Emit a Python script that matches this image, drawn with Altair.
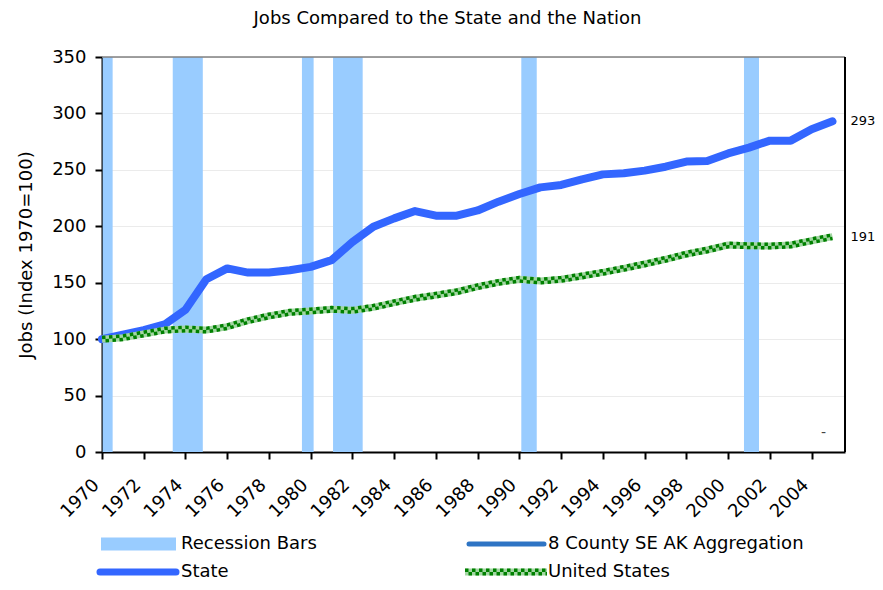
import altair as alt
import pandas as pd

# ---------------- data ----------------
years = list(range(1970, 2006))
state = [100, 104, 108, 113, 126, 153, 162.7, 159, 159, 161,
         164, 170, 186, 199.6, 207, 213.5, 209.4, 209.4, 214, 221.8,
         228.6, 234.5, 236.6, 241.6, 246, 247, 249.3, 252.8, 257.3, 257.8,
         264.6, 269.7, 275.9, 275.9, 286, 293]
us = [100, 101.3, 104.6, 108, 109, 108, 111, 116.4, 120.5, 123.8,
      125, 126.4, 125.5, 128.2, 132.3, 136.2, 139, 142, 146.5, 150.3,
      153, 151.5, 153, 156, 159.2, 162.7, 166.6, 170.7, 175.4, 179,
      183.4, 182.8, 182.5, 183.4, 187.2, 190.8]
rec_start = [1970.03, 1973.39, 1979.58, 1981.07, 1990.09, 2000.76]
rec_end = [1970.51, 1974.83, 1980.14, 1982.49, 1990.83, 2001.48]
end_labels = ["293", "191"]
county_label_year = [2005]
county_label_value = [17]
county_label_text = ["-"]
x_ticks = list(range(1970, 2005, 2))
y_ticks = list(range(0, 351, 50))
legend_names = ["Recession Bars", "8 County SE AK Aggregation", "State", "United States"]

W, H = 743, 395
FONT = "DejaVu Sans"
BLUE = "#3366FF"
REC = "#99CCFF"
COUNTY = "#2E74C4"
DKGREEN = "#008000"
LTGREEN = "#A3D6A3"

lines_df = pd.DataFrame({"year": years, "state": state, "us": us})
rec_df = pd.DataFrame({"start": rec_start, "end": rec_end})
end_df = pd.DataFrame({"year": [years[-1], years[-1]],
                       "value": [state[-1], us[-1]],
                       "label": end_labels})
dash_df = pd.DataFrame({"year": county_label_year, "value": county_label_value,
                        "label": county_label_text})
one = pd.DataFrame({"k": [0]})

xs = alt.Scale(domain=[1970, 2005.6], nice=False, zero=False)
ys = alt.Scale(domain=[0, 350], nice=False, zero=True)
x_axis = alt.Axis(values=x_ticks, format="d", labelAngle=315, labelAlign="right",
                  labelBaseline="middle", labelPadding=23, labelOffset=-6,
                  grid=False, title=None, labelFlush=False, labelOverlap=False)
y_axis = alt.Axis(values=y_ticks, grid=True, title="Jobs (Index 1970=100)",
                  labelPadding=9, titlePadding=16)

bars = alt.Chart(rec_df).mark_rect(color=REC).encode(
    x=alt.X("start:Q", scale=xs, axis=x_axis),
    x2="end:Q",
    y=alt.Y(datum=0, type="quantitative", scale=ys, axis=y_axis),
    y2=alt.Y2(datum=350),
)

top_border = alt.Chart(one).mark_rule(color="#808080", strokeWidth=1.5).encode(
    x=alt.value(0), x2=alt.value(W), y=alt.value(0))
right_border = alt.Chart(one).mark_rule(color="black", strokeWidth=2).encode(
    x=alt.value(W), y=alt.value(0), y2=alt.value(H))

X = alt.X("year:Q", scale=xs, axis=x_axis)

state_line = alt.Chart(lines_df).mark_line(
    color=BLUE, strokeWidth=8, strokeJoin="round", strokeCap="round").encode(
    x=X, y=alt.Y("state:Q", scale=ys, axis=y_axis))

us_base = alt.Chart(lines_df).mark_line(
    color=LTGREEN, strokeWidth=7, strokeJoin="round").encode(
    x=X, y=alt.Y("us:Q", scale=ys, axis=y_axis))
us_d1 = alt.Chart(lines_df).mark_line(
    color=DKGREEN, strokeWidth=3.5, strokeDash=[3.5, 3.5], yOffset=-1.75).encode(
    x=X, y=alt.Y("us:Q", scale=ys, axis=y_axis))
us_d2 = alt.Chart(lines_df).mark_line(
    color=DKGREEN, strokeWidth=3.5, strokeDash=[3.5, 3.5], strokeDashOffset=3.5,
    yOffset=1.75).encode(
    x=X, y=alt.Y("us:Q", scale=ys, axis=y_axis))

end_text = alt.Chart(end_df).mark_text(
    align="left", baseline="middle", dx=18, fontSize=13, font=FONT, color="black").encode(
    x=X, y=alt.Y("value:Q", scale=ys, axis=y_axis), text="label:N")
dash_text = alt.Chart(dash_df).mark_text(
    align="center", baseline="middle", dx=-9, fontSize=14, font=FONT, color="#444444").encode(
    x=X, y=alt.Y("value:Q", scale=ys, axis=y_axis), text="label:N")

# ---------------- manual legend (layout in pixels) ----------------
R1, R2 = 487, 515
leg = []
leg.append(alt.Chart(one).mark_rect(color=REC).encode(
    x=alt.value(-1), x2=alt.value(74), y=alt.value(R1 - 6.5), y2=alt.value(R1 + 6.5)))
leg.append(alt.Chart(one).mark_rule(color=COUNTY, strokeWidth=5, strokeCap="round").encode(
    x=alt.value(367), x2=alt.value(442), y=alt.value(R1)))
leg.append(alt.Chart(one).mark_rule(color=BLUE, strokeWidth=7, strokeCap="round").encode(
    x=alt.value(-2), x2=alt.value(74), y=alt.value(R2)))
leg.append(alt.Chart(one).mark_rule(color=LTGREEN, strokeWidth=7).encode(
    x=alt.value(363), x2=alt.value(445), y=alt.value(R2)))
leg.append(alt.Chart(one).mark_rule(color=DKGREEN, strokeWidth=3.5, strokeDash=[3.5, 3.5]).encode(
    x=alt.value(363), x2=alt.value(445), y=alt.value(R2 - 1.75)))
leg.append(alt.Chart(one).mark_rule(color=DKGREEN, strokeWidth=3.5, strokeDash=[3.5, 3.5],
                                    strokeDashOffset=3.5).encode(
    x=alt.value(363), x2=alt.value(445), y=alt.value(R2 + 1.75)))
leg_pos = [(79, R1), (446, R1), (79, R2), (446, R2)]
for name, (lx, ly) in zip(legend_names, leg_pos):
    leg.append(alt.Chart(one).mark_text(
        text=name, align="left", baseline="middle", fontSize=18, font=FONT, color="black").encode(
        x=alt.value(lx), y=alt.value(ly)))

chart = alt.layer(
    bars, top_border, right_border, state_line, us_base, us_d1, us_d2,
    end_text, dash_text, *leg
).properties(
    width=W, height=H,
    title=alt.Title("Jobs Compared to the State and the Nation", font=FONT, fontSize=18,
                    fontWeight="normal", anchor="middle", frame="group", dx=-26,
                    offset=20, color="black"),
    autosize=alt.AutoSizeParams(type="none"),
    padding={"left": 94, "top": 49, "right": 30, "bottom": 130},
).configure_view(stroke=None).configure_axis(
    domainColor="black", domainWidth=2, tickColor="black", tickWidth=2, tickSize=7,
    labelFont=FONT, labelFontSize=18, labelColor="black",
    titleFont=FONT, titleFontSize=18, titleFontWeight="normal", titleColor="black",
    gridColor="#EBEBEB", gridWidth=1,
)

chart.save("out.html", embed_options={"renderer": "svg", "actions": False})
